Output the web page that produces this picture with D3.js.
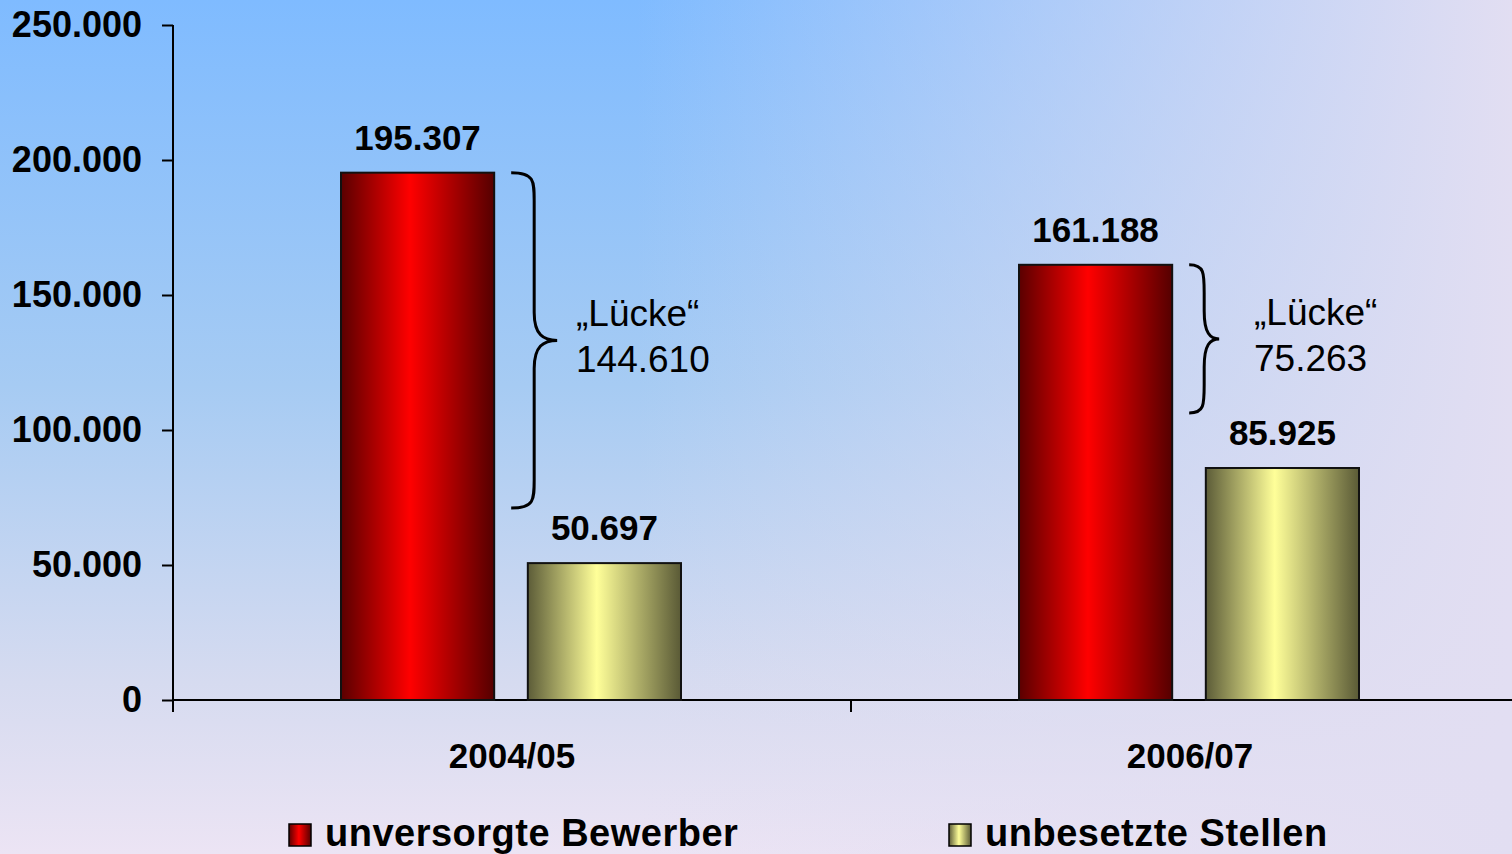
<!DOCTYPE html>
<html>
<head>
<meta charset="utf-8">
<script src="https://cdn.jsdelivr.net/npm/d3@7"></script>
<style>
  html, body { margin: 0; padding: 0; overflow: hidden; }
  svg { display: block; font-family: Arial, "Liberation Sans", sans-serif; }
</style>
</head>
<body>
<div class="chart"></div>
<script>
// Data
const categories = ['2004/05', '2006/07'];
const series = ['unversorgte Bewerber', 'unbesetzte Stellen'];
const bewerber = [195307, 161188];
const stellen = [50697, 85925];
const yTicks = [0, 50000, 100000, 150000, 200000, 250000];
const gapLabel = '\u201ELücke\u201C';

const outerWidth = 1512;
const outerHeight = 854;

// German number format: 195.307
const de = d3.formatLocale({ decimal: ',', thousands: '.', grouping: [3], currency: ['', ' €'] });
const fmt = de.format(',d');

const svg = d3.select('.chart')
  .append('svg')
    .attr('width', outerWidth)
    .attr('height', outerHeight);

const defs = svg.append('defs');

// background: blue in the top left, lavender towards bottom and right
const bgV = defs.append('linearGradient')
  .attr('id', 'bgV').attr('x1', 0).attr('y1', 0).attr('x2', 0).attr('y2', 1);
bgV.append('stop').attr('offset', 0).attr('stop-color', '#7fbbff');
bgV.append('stop').attr('offset', 0.45).attr('stop-color', '#a6cbf3');
bgV.append('stop').attr('offset', 0.8).attr('stop-color', '#d6dbf0');
bgV.append('stop').attr('offset', 1).attr('stop-color', '#ece4f4');

const bgH = defs.append('linearGradient')
  .attr('id', 'bgH').attr('x1', 0).attr('y1', 0).attr('x2', 1).attr('y2', 0);
bgH.append('stop').attr('offset', 0.42).attr('stop-color', '#e2def2').attr('stop-opacity', 0);
bgH.append('stop').attr('offset', 1).attr('stop-color', '#e2def2').attr('stop-opacity', 1);

svg.append('rect').attr('width', outerWidth).attr('height', outerHeight).attr('fill', 'url(#bgV)');
svg.append('rect').attr('width', outerWidth).attr('height', outerHeight).attr('fill', 'url(#bgH)');

// bar shading (cylinder look)
const barColors = [
  ['#5a0000', '#ff0000', '#550000'],
  ['#5c5c38', '#ffff99', '#5a5a36']
];
barColors.forEach((c, i) => {
  const g = defs.append('linearGradient')
    .attr('id', 'bar' + i).attr('x1', 0).attr('y1', 0).attr('x2', 1).attr('y2', 0);
  g.append('stop').attr('offset', 0).attr('stop-color', c[0]);
  g.append('stop').attr('offset', 0.45).attr('stop-color', c[1]);
  g.append('stop').attr('offset', 1).attr('stop-color', c[2]);
});

// scales
const y = d3.scaleLinear().domain([0, 250000]).range([700, 25]);
const x = d3.scaleBand().domain(categories).range([173, 1529]);
const xSub = d3.scaleBand().domain(series).range([0, 340]).paddingInner(0.18);
const groupLeft = c => x(c) + x.bandwidth() / 2 - 171;

const rows = categories.map((c, i) => ({ cat: c, values: [bewerber[i], stellen[i]] }));

// y axis
const yAxis = svg.append('g')
  .attr('transform', 'translate(173,0)')
  .call(d3.axisLeft(y).tickValues(yTicks).tickSize(11).tickPadding(20).tickFormat(fmt));
yAxis.select('.domain').remove();
yAxis.selectAll('line').attr('stroke', '#000').attr('stroke-width', 2);
yAxis.selectAll('text')
  .attr('fill', '#000')
  .style('font-size', '36px')
  .style('font-weight', 'bold');

svg.append('line')
  .attr('x1', 173).attr('x2', 173)
  .attr('y1', y(250000)).attr('y2', 712)
  .attr('stroke', '#000').attr('stroke-width', 2);

// x axis line and boundary ticks
svg.append('line')
  .attr('x1', 173).attr('x2', outerWidth)
  .attr('y1', y(0)).attr('y2', y(0))
  .attr('stroke', '#000').attr('stroke-width', 2);
svg.selectAll('.xtick')
  .data(categories.slice(1))
  .enter().append('line')
    .attr('class', 'xtick')
    .attr('x1', d => x(d)).attr('x2', d => x(d))
    .attr('y1', y(0)).attr('y2', 712)
    .attr('stroke', '#000').attr('stroke-width', 2);

svg.selectAll('.xlabel')
  .data(categories)
  .enter().append('text')
    .attr('class', 'xlabel')
    .attr('x', d => x(d) + x.bandwidth() / 2)
    .attr('y', 768)
    .attr('text-anchor', 'middle')
    .style('font-size', '35px')
    .style('font-weight', 'bold')
    .text(d => d);

// bars
const groups = svg.selectAll('.group')
  .data(rows)
  .enter().append('g')
    .attr('class', 'group')
    .attr('transform', d => `translate(${groupLeft(d.cat)},0)`);

groups.selectAll('rect')
  .data(d => d.values.map((v, i) => ({ s: series[i], i: i, v: v })))
  .enter().append('rect')
    .attr('x', d => xSub(d.s))
    .attr('y', d => y(d.v))
    .attr('width', xSub.bandwidth())
    .attr('height', d => y(0) - y(d.v))
    .attr('fill', d => 'url(#bar' + d.i + ')')
    .attr('stroke', '#111')
    .attr('stroke-width', 2);

groups.selectAll('.value')
  .data(d => d.values.map((v, i) => ({ s: series[i], v: v })))
  .enter().append('text')
    .attr('class', 'value')
    .attr('x', d => xSub(d.s) + xSub.bandwidth() / 2)
    .attr('y', d => y(d.v) - 23)
    .attr('text-anchor', 'middle')
    .style('font-size', '35px')
    .style('font-weight', 'bold')
    .text(d => fmt(d.v));

// braces showing the gap between the two series
function bracePath(x0, top, bot, w) {
  const mid = (top + bot) / 2;
  const xm = x0 + w / 2;
  const r = Math.min(28, (bot - top) / 5);
  return `M${x0},${top}` +
    `C${xm},${top} ${xm},${top + r * 0.3} ${xm},${top + r}` +
    `L${xm},${mid - r}` +
    `C${xm},${mid - r * 0.2} ${xm + w * 0.2},${mid} ${x0 + w},${mid}` +
    `C${xm + w * 0.2},${mid} ${xm},${mid + r * 0.2} ${xm},${mid + r}` +
    `L${xm},${bot - r}` +
    `C${xm},${bot - r * 0.3} ${xm},${bot} ${x0},${bot}`;
}

groups.each(function(d) {
  const g = d3.select(this);
  const top = y(d.values[0]);
  const bot = y(d.values[1]) - 55;
  const h = bot - top;
  const w = Math.max(30, Math.min(46, h * 0.14));
  const x0 = xSub(series[0]) + xSub.bandwidth() + 17;
  const mid = (top + bot) / 2;
  g.append('path')
    .attr('d', bracePath(x0, top, bot, w))
    .attr('fill', 'none')
    .attr('stroke', '#000')
    .attr('stroke-width', 3);
  const t = g.append('text')
    .style('font-size', '37px');
  t.append('tspan').attr('x', 235).attr('y', mid - 14).text(gapLabel);
  t.append('tspan').attr('x', 235).attr('y', mid + 32).text(fmt(d.values[0] - d.values[1]));
});

// legend
const legend = svg.selectAll('.legend')
  .data(series)
  .enter().append('g')
    .attr('class', 'legend')
    .attr('transform', (d, i) => `translate(${289 + i * 660},824)`);
legend.append('rect')
  .attr('width', 22).attr('height', 22)
  .attr('fill', (d, i) => 'url(#bar' + i + ')')
  .attr('stroke', '#000').attr('stroke-width', 1.5);
legend.append('text')
  .attr('x', 36).attr('y', 22)
  .style('font-size', '38px')
  .style('font-weight', 'bold')
  .style('letter-spacing', '0.5px')
  .text(d => d);
</script>
</body>
</html>
